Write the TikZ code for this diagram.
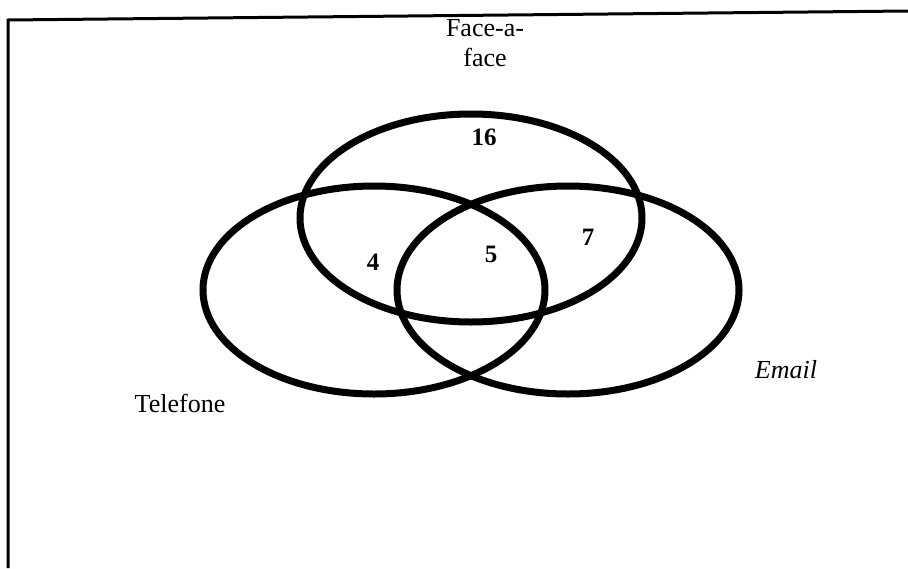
\documentclass[tikz,border=0pt]{standalone}
\usepackage{fontspec}
\setmainfont{Liberation Serif}
\usetikzlibrary{shapes.geometric}
\tikzset{
  vennset/.style={ellipse,draw=black,line width=7pt,minimum width=342pt,minimum height=208pt,inner sep=0pt},
  setlabel/.style={font=\fontsize{26}{30}\selectfont,align=center,inner sep=0pt},
  countlabel/.style={font=\fontsize{25}{28}\selectfont\bfseries,inner sep=0pt},
  framerule/.style={line width=3pt}
}

\begin{document}
\begin{tikzpicture}[x=1pt,y=-1pt]
  \useasboundingbox (0,0) rectangle (908,568);
  % frame of the scanned box
  \coordinate (ftl) at (8,20);
  \coordinate (ftr) at (908,11);
  \coordinate (fbl) at (8,568);
  \draw[framerule] (ftr) -- (ftl) -- (fbl);
  % the three sets
  \node[vennset] (face) at (471,218) {};
  \node[vennset] (tel) at (374,290) {};
  \node[vennset] (mail) at (568,290) {};
  % names of the sets
  \node[setlabel] (facename) at (485,43) {Face-a-\\face};
  \node[setlabel] (telname) at (180,403) {Telefone};
  \node[setlabel] (mailname) at (786,370) {\itshape Email};
  % counts
  \node[countlabel] (nface) at (484,137) {16};
  \node[countlabel] (nfacetel) at (373,262) {4};
  \node[countlabel] (nall) at (491,254) {5};
  \node[countlabel] (nfacemail) at (588,237) {7};
\end{tikzpicture}
\end{document}
